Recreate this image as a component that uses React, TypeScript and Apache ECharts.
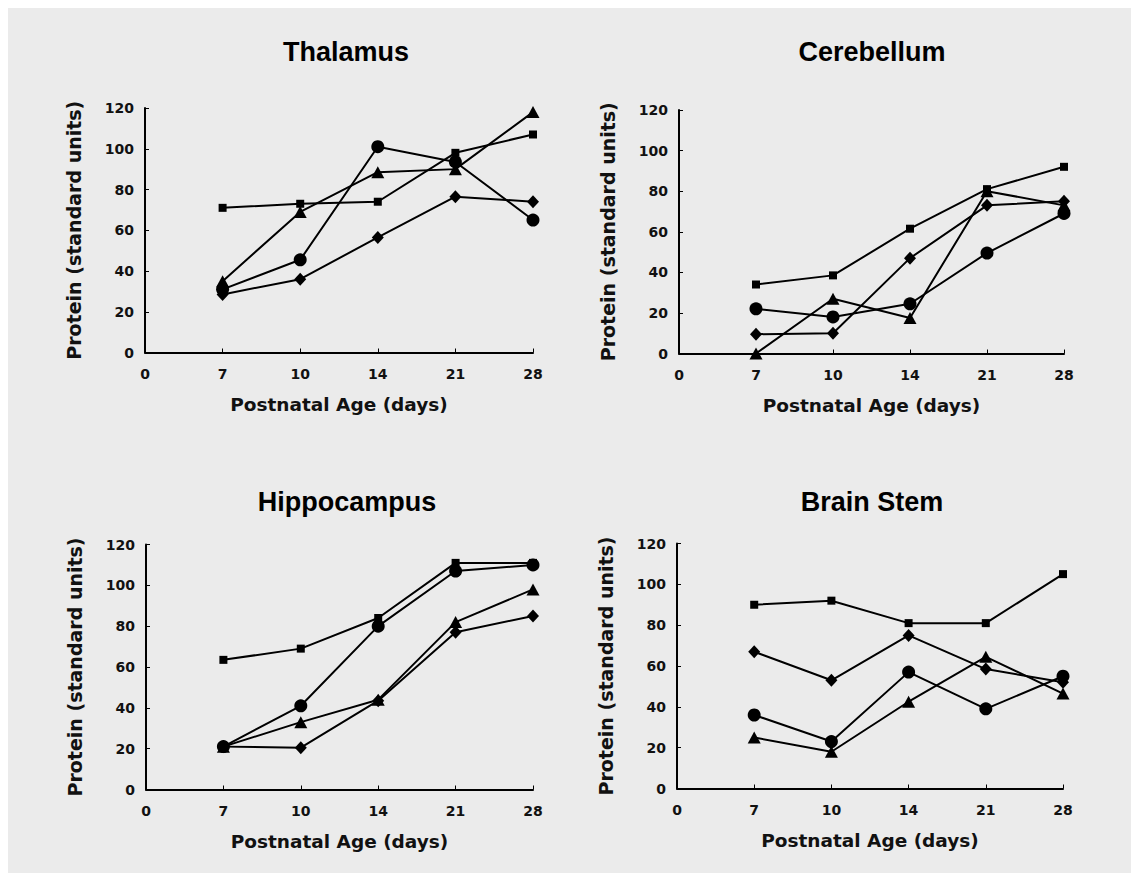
import React, { useEffect, useRef } from "react";
import * as echarts from "echarts";

const xCategories = ["0", "7", "10", "14", "21", "28"];
const days = ["7", "10", "14", "21", "28"];
const yTicks = { min: 0, max: 120, interval: 20 };

const panelTitles = ["Thalamus", "Cerebellum", "Hippocampus", "Brain Stem"];

const thalamusSquare = [71, 73, 74, 98, 107];
const thalamusTriangle = [35, 69, 88.5, 90, 118];
const thalamusCircle = [31, 45.5, 101, 93.5, 65];
const thalamusDiamond = [28.5, 36, 56.5, 76.5, 74];

const cerebellumSquare = [34, 38.5, 61.5, 81, 92];
const cerebellumCircle = [22, 18, 24.5, 49.5, 69];
const cerebellumDiamond = [9.5, 10, 47, 73, 75];
const cerebellumTriangle = [0, 27, 17.5, 80, 73];

const hippocampusSquare = [63.5, 69, 84, 111, 111];
const hippocampusCircle = [21, 41, 80, 107, 110];
const hippocampusTriangle = [21, 33, 44, 82, 98];
const hippocampusDiamond = [21, 20.5, 43.5, 77, 85];

const brainStemSquare = [90, 92, 81, 81, 105];
const brainStemDiamond = [67, 53, 75, 58.5, 52];
const brainStemCircle = [36, 23, 57, 39, 55];
const brainStemTriangle = [25, 18, 42.5, 64.5, 46.5];

const panelSeries = [
  { square: thalamusSquare, triangle: thalamusTriangle, circle: thalamusCircle, diamond: thalamusDiamond },
  { square: cerebellumSquare, triangle: cerebellumTriangle, circle: cerebellumCircle, diamond: cerebellumDiamond },
  { square: hippocampusSquare, triangle: hippocampusTriangle, circle: hippocampusCircle, diamond: hippocampusDiamond },
  { square: brainStemSquare, triangle: brainStemTriangle, circle: brainStemCircle, diamond: brainStemDiamond },
];

const grids = [
  { left: 137, top: 100, width: 388, height: 244.5 },
  { left: 671, top: 102, width: 385, height: 243.5 },
  { left: 138, top: 536.5, width: 387, height: 245 },
  { left: 669, top: 535.5, width: 386, height: 245 },
];

const titlePos = [
  { x: 338, y: 43.5 },
  { x: 864, y: 43.5 },
  { x: 339, y: 493.5 },
  { x: 864, y: 493.5 },
];

const markers: Record<string, { symbol: string; size: number | number[] }> = {
  square: { symbol: "rect", size: 8 },
  triangle: { symbol: "triangle", size: [13, 12] },
  circle: { symbol: "circle", size: 13 },
  diamond: { symbol: "diamond", size: [12, 13] },
};

const BOLD = "DejaVu Sans";

export default function App() {
  const ref = useRef<HTMLDivElement>(null);
  useEffect(() => {
    if (!ref.current) return;
    const chart = echarts.init(ref.current, undefined, { renderer: "svg" });
    const xAxis = grids.map((_, i) => ({
      type: "category",
      gridIndex: i,
      data: xCategories,
      boundaryGap: false,
      name: "Postnatal Age (days)",
      nameLocation: "middle",
      nameGap: 42,
      nameTextStyle: { fontFamily: BOLD, fontWeight: "bold", fontSize: 18.5, color: "#111" },
      axisLine: { show: true, onZero: false, lineStyle: { color: "#000", width: 2 } },
      axisTick: { show: true, inside: true, length: 4, alignWithLabel: true, lineStyle: { color: "#000", width: 1 } },
      axisLabel: { margin: 14, fontFamily: BOLD, fontWeight: "bold", fontSize: 14, color: "#111" },
      splitLine: { show: false },
    }));
    const yAxis = grids.map((_, i) => ({
      type: "value",
      gridIndex: i,
      min: yTicks.min,
      max: yTicks.max,
      interval: yTicks.interval,
      name: "Protein (standard units)",
      nameLocation: "middle",
      nameRotate: 90,
      nameGap: 62,
      nameTextStyle: { fontFamily: BOLD, fontWeight: "bold", fontSize: 19, color: "#111" },
      axisLine: { show: true, lineStyle: { color: "#000", width: 2 } },
      axisTick: { show: true, inside: true, length: 4, lineStyle: { color: "#000", width: 1 } },
      axisLabel: { margin: 11, fontFamily: BOLD, fontWeight: "bold", fontSize: 14, color: "#111" },
      splitLine: { show: false },
    }));
    const series: any[] = [];
    panelSeries.forEach((p, i) => {
      (Object.keys(p) as (keyof typeof p)[]).forEach((k) => {
        const m = markers[k];
        series.push({
          type: "line",
          xAxisIndex: i,
          yAxisIndex: i,
          data: days.map((d, j) => [d, p[k][j]]),
          symbol: m.symbol,
          symbolSize: m.size,
          showSymbol: true,
          lineStyle: { color: "#000", width: 2 },
          itemStyle: { color: "#000", borderWidth: 0 },
          emphasis: { disabled: true },
        });
      });
    });
    chart.setOption({
      animation: false,
      backgroundColor: "#ebebeb",
      grid: grids,
      xAxis,
      yAxis,
      series,
      graphic: panelTitles.map((t, i) => ({
        type: "text",
        x: titlePos[i].x,
        y: titlePos[i].y,
        style: {
          text: t,
          fill: "#000",
          font: "bold 27px 'Liberation Sans', Arial, sans-serif",
          textAlign: "center",
          textVerticalAlign: "middle",
        },
      })),
    });
    return () => chart.dispose();
  }, []);
  return <div ref={ref} style={{ width: 1123, height: 865, background: "#ebebeb" }} />;
}
